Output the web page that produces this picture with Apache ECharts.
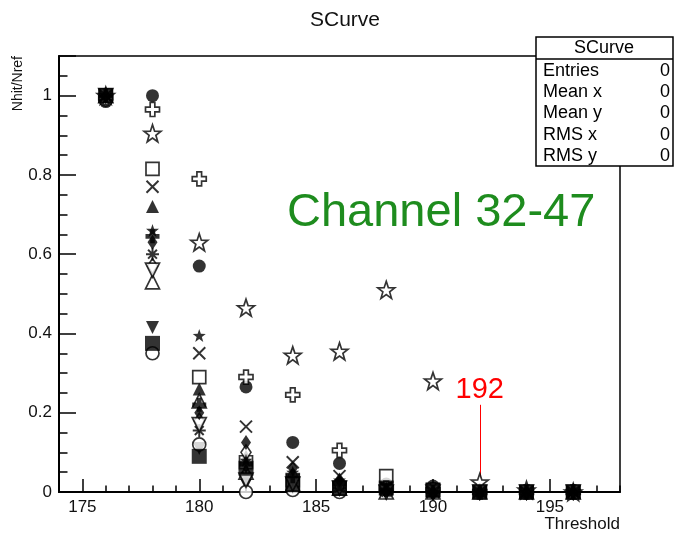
<!DOCTYPE html>
<html>
<head>
<meta charset="utf-8">
<script src="https://cdn.jsdelivr.net/npm/echarts@6/dist/echarts.min.js"></script>
<style>
  html, body { margin: 0; padding: 0; background: #fff; }
  #chart { width: 674px; height: 533px; }
</style>
</head>
<body>
<div id="chart"></div>
<script>
// thresholds scanned
const thresholds = [176, 178, 180, 182, 184, 186, 188, 190, 192, 194, 196];

// Nhit/Nref per channel, one array per marker style
const fullCircle   = [0.985, 1.0,   0.57,  0.265, 0.125, 0.072, 0.02,  0.015, 0.005, 0, 0];
const fullSquare   = [1.0,   0.375, 0.09,  0.06,  0.02,  0.01,  0.01,  0.005, 0,     0, 0];
const fullTriUp    = [1.0,   0.72,  0.26,  0.09,  0.04,  0.02,  0.01,  0,     0,     0, 0];
const fullTriDown  = [1.0,   0.415, 0.11,  0.02,  0.01,  0.005, 0,     0,     0,     0, 0];
const openCircle   = [0.99,  0.35,  0.12,  0.0,   0.005, 0,     0,     0,     0,     0, 0];
const openSquare   = [1.0,   0.815, 0.29,  0.075, 0.03,  0.01,  0.04,  0.005, 0,     0, 0];
const openTriUp    = [1.0,   0.53,  0.23,  0.05,  0.02,  0.01,  0,     0,     0,     0, 0];
const openDiamond  = [1.0,   0.57,  0.18,  0.1,   0.04,  0.02,  0.005, 0,     0,     0, 0];
const openCross    = [0.995, 0.965, 0.79,  0.29,  0.245, 0.105, 0.01,  0.005, 0,     0, 0];
const fullStar     = [1.0,   0.66,  0.395, 0.08,  0.05,  0.03,  0.01,  0,     0,     0, 0];
const openStar     = [1.0,   0.905, 0.63,  0.465, 0.345, 0.355, 0.51,  0.28,  0.025, 0.005, 0];
const asterisk     = [1.0,   0.6,   0.155, 0.04,  0.03,  0.01,  0,     0,     0,     0, 0];
const openTriDown  = [1.0,   0.56,  0.17,  0.03,  0.02,  0.01,  0,     0,     0,     0, 0];
const fullDiamond  = [1.0,   0.63,  0.2,   0.125, 0.06,  0.03,  0.005, 0,     0,     0, 0];
const fullCross    = [1.0,   0.645, 0.22,  0.07,  0.04,  0.02,  0.005, 0,     0,     0, 0];
const xMark        = [1.0,   0.77,  0.35,  0.165, 0.075, 0.04,  0.01,  0,     0,     0, 0];

const xMajorTicks = [175, 180, 185, 190, 195];
const statsRows = [['Entries', '0'], ['Mean x', '0'], ['Mean y', '0'], ['RMS x', '0'], ['RMS y', '0']];
const markedThreshold = 192;

const FONT = 'Liberation Sans, Arial, Helvetica, sans-serif';

const STAR = 'path://M0,-10L2.35,-3.24L9.51,-3.09L3.8,1.24L5.88,8.09L0,4L-5.88,8.09L-3.8,1.24L-9.51,-3.09L-2.35,-3.24Z';
const PLUS = 'path://M-2,-6L2,-6L2,-2L6,-2L6,2L2,2L2,6L-2,6L-2,2L-6,2L-6,-2L-2,-2Z';
const XSYM = 'path://M0,0L10,10M10,0L0,10';
const ASTER = 'path://M5,0L5,10M0,5L10,5M1.6,1.6L8.4,8.4M8.4,1.6L1.6,8.4';

const full = {color: '#000', borderWidth: 0};
const open = {color: '#fff', borderColor: '#000', borderWidth: 1.7};
const lineOnly = {color: 'rgba(0,0,0,0)', borderColor: '#000', borderWidth: 2};

// marker style for each channel, in drawing order (full squares end up on top)
const channels = [
    {values: fullCircle,  symbol: 'circle',   size: 13, style: full},
    {values: fullTriUp,   symbol: 'triangle', size: 13, style: full},
    {values: fullTriDown, symbol: 'triangle', size: 13, style: full, rotate: 180},
    {values: openCircle,  symbol: 'circle',   size: 13, style: open},
    {values: openSquare,  symbol: 'rect',     size: 13, style: open},
    {values: openTriUp,   symbol: 'triangle', size: 14, style: open},
    {values: openDiamond, symbol: 'diamond',  size: [10, 15], style: open},
    {values: openCross,   symbol: PLUS,       size: 14, style: open},
    {values: fullStar,    symbol: STAR,       size: 13, style: full},
    {values: openStar,    symbol: STAR,       size: 17, style: open},
    {values: asterisk,    symbol: ASTER,      size: 13, style: lineOnly},
    {values: openTriDown, symbol: 'triangle', size: 14, style: open, rotate: 180},
    {values: fullDiamond, symbol: 'diamond',  size: [10, 15], style: full},
    {values: fullCross,   symbol: PLUS,       size: 14, style: full},
    {values: xMark,       symbol: XSYM,       size: 12, style: lineOnly},
    {values: fullSquare,  symbol: 'rect',     size: 15, style: full},
];

const series = channels.map((c, i) => ({
    type: 'scatter',
    xAxisIndex: 0,
    yAxisIndex: 0,
    symbol: c.symbol,
    symbolSize: c.size,
    symbolRotate: c.rotate || 0,
    itemStyle: c.style,
    z: 2 + i,
    silent: true,
    data: thresholds.map((t, k) => [t, c.values[k]]),
}));

// red pointer to threshold 192
series[9].markLine = {
    silent: true,
    symbol: ['none', 'none'],
    animation: false,
    lineStyle: {color: '#ff0000', width: 1, type: 'solid'},
    label: {
        show: true, position: 'end', formatter: String(markedThreshold),
        color: '#ff0000', fontSize: 29, fontFamily: FONT, distance: 0,
    },
    data: [[{coord: [markedThreshold, 0.035]}, {coord: [markedThreshold, 0.22]}]],
};

const statsGraphics = [
    {type: 'rect', shape: {x: 536, y: 37, width: 137, height: 129},
        style: {fill: '#fff', stroke: '#000', lineWidth: 1.5}},
    {type: 'line', shape: {x1: 536, y1: 59, x2: 673, y2: 59},
        style: {stroke: '#000', lineWidth: 1.5}},
    {type: 'text', x: 604, y: 48,
        style: {text: 'SCurve', fill: '#000', font: '18px ' + FONT, textAlign: 'center', textVerticalAlign: 'middle'}},
];
statsRows.forEach((r, i) => {
    statsGraphics.push({type: 'text', x: 543, y: 71 + i * 21.2,
        style: {text: r[0], fill: '#000', font: '18px ' + FONT, textAlign: 'left', textVerticalAlign: 'middle'}});
    statsGraphics.push({type: 'text', x: 670, y: 71 + i * 21.2,
        style: {text: r[1], fill: '#000', font: '18px ' + FONT, textAlign: 'right', textVerticalAlign: 'middle'}});
});

const myChart = echarts.init(document.getElementById('chart'), null, {renderer: 'canvas'});

const option = {
    animation: false,
    backgroundColor: '#fff',
    grid: {
        left: 59, right: 54, top: 56, bottom: 41,
        outerBoundsMode: 'none',
        show: true, borderColor: '#000', borderWidth: 1.5, backgroundColor: 'transparent',
    },
    xAxis: [
        {
            type: 'value', min: 174, max: 198, interval: 1, position: 'bottom',
            axisLine: {show: true, onZero: false, lineStyle: {color: '#000', width: 2}},
            axisTick: {show: true, inside: true, length: 6.5, lineStyle: {color: '#000', width: 1.5}},
            axisLabel: {
                color: '#111', fontSize: 17, fontFamily: FONT, margin: 7,
                customValues: xMajorTicks,
            },
            splitLine: {show: false},
            name: 'Threshold', nameLocation: 'end', nameGap: 0,
            nameTextStyle: {color: '#111', fontSize: 17, fontFamily: FONT, align: 'right', verticalAlign: 'top', padding: [24, 0, 0, 0]},
        },
        {
            type: 'value', min: 174, max: 198, position: 'bottom', gridIndex: 0,
            axisLine: {show: false},
            axisTick: {show: true, inside: true, length: 13, customValues: xMajorTicks, lineStyle: {color: '#000', width: 1.5}},
            axisLabel: {show: false},
            splitLine: {show: false},
        },
    ],
    yAxis: {
        type: 'value', min: 0, max: 1.1, interval: 0.2,
        axisLine: {show: true, onZero: false, lineStyle: {color: '#000', width: 2}},
        axisTick: {show: true, inside: true, length: 17, lineStyle: {color: '#000', width: 1.5}},
        minorTick: {show: true, splitNumber: 4, length: 8.5, lineStyle: {color: '#000', width: 1.5}},
        axisLabel: {color: '#111', fontSize: 17, fontFamily: FONT, margin: 7, showMaxLabel: false},
        splitLine: {show: false},
        minorSplitLine: {show: false},
        name: 'Nhit/Nref', nameLocation: 'end', nameRotate: 90, nameGap: 0,
        nameTextStyle: {color: '#111', fontSize: 14, fontFamily: FONT, align: 'right', verticalAlign: 'bottom', padding: [0, 0, 34, 0]},
    },
    graphic: [
        {type: 'text', x: 345, y: 20, z: 100,
            style: {text: 'SCurve', fill: '#111', font: '21px ' + FONT, textAlign: 'center', textVerticalAlign: 'middle'}},
        {type: 'text', x: 287, y: 213, z: 100,
            style: {text: 'Channel 32-47', fill: '#1e8c1e', font: '47px ' + FONT, textAlign: 'left', textVerticalAlign: 'middle'}},
        {type: 'group', z: 100, children: statsGraphics},
    ],
    series: series,
};

myChart.setOption(option);
</script>
</body>
</html>
